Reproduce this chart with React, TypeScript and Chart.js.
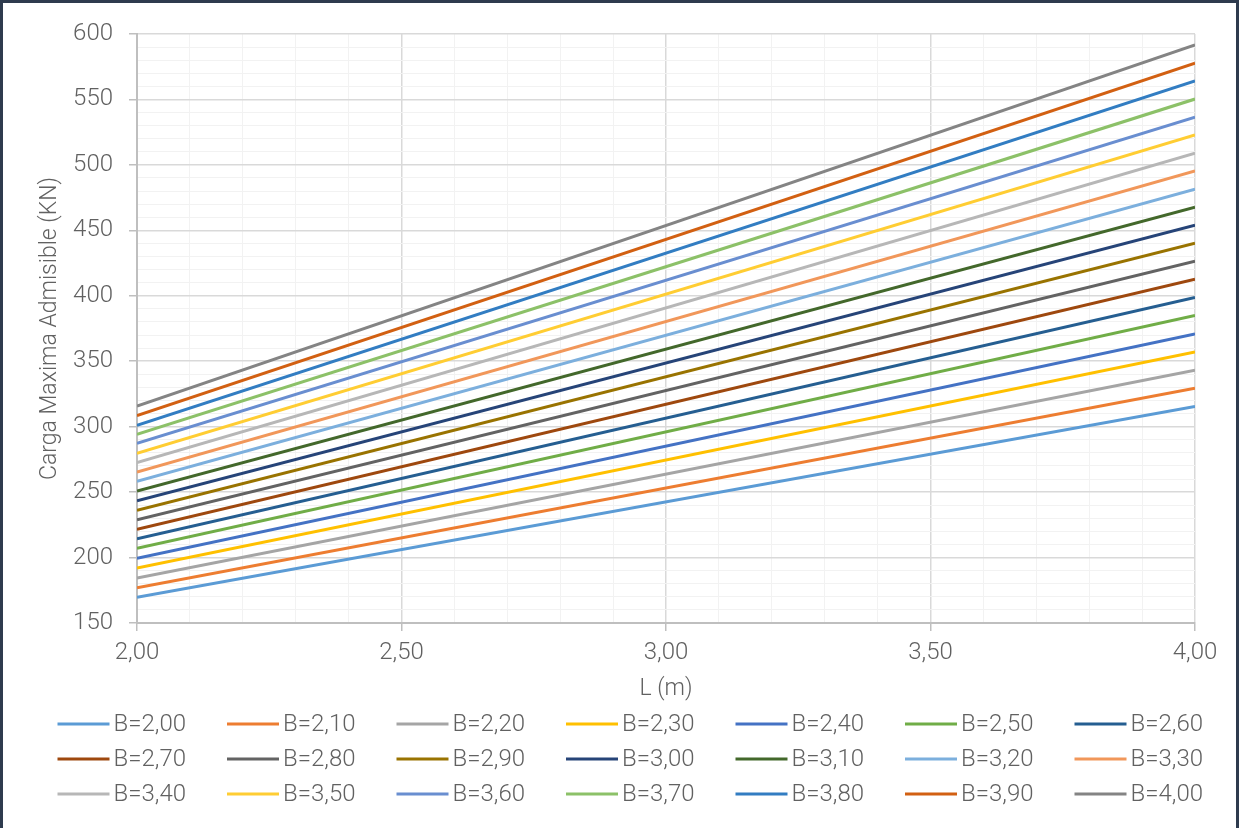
import React, { useEffect, useRef } from "react";
import { Chart, registerables } from "chart.js";

Chart.register(...registerables);

// ---- Data ----
const seriesLabels = [
  "B=2,00", "B=2,10", "B=2,20", "B=2,30", "B=2,40", "B=2,50", "B=2,60",
  "B=2,70", "B=2,80", "B=2,90", "B=3,00", "B=3,10", "B=3,20", "B=3,30",
  "B=3,40", "B=3,50", "B=3,60", "B=3,70", "B=3,80", "B=3,90", "B=4,00",
];
const lengthsM = [2.0, 4.0];
const loadAtLmin = [
  169.6, 176.9, 184.3, 192.0, 199.4, 207.0, 214.4,
  221.6, 228.9, 236.1, 243.4, 250.8, 258.3, 265.4,
  272.5, 279.7, 287.3, 294.2, 301.1, 308.4, 315.8,
];
const loadAtLmax = [
  315.4, 329.4, 343.1, 357.0, 370.9, 385.0, 398.7,
  412.7, 426.5, 440.2, 454.0, 467.7, 481.5, 495.3,
  509.0, 522.8, 536.5, 550.3, 564.1, 577.8, 591.6,
];
const seriesColors = [
  "#5B9BD5", "#ED7D31", "#A5A5A5", "#FFC000", "#4472C4", "#70AD47", "#255E91",
  "#9E480E", "#636363", "#997300", "#264478", "#43682B", "#7CAFDD", "#F1975A",
  "#B7B7B7", "#FFCD33", "#698ED0", "#8CC168", "#327DC2", "#D26012", "#848484",
];
const xMajorTicks = [2.0, 2.5, 3.0, 3.5, 4.0];
const yMajorTicks = [150, 200, 250, 300, 350, 400, 450, 500, 550, 600];
const xTitle = "L (m)";
const yTitle = "Carga Maxima Admisible (KN)";

const FONT = "Roboto";
const TEXT = "#616161";
const MAJOR = "#D9D9D9";
const MINOR = "#F2F2F2";
const AXIS = "#BFBFBF";

const isMajor = (v: number, list: number[]) => list.some((m) => Math.abs(m - v) < 1e-6);

const gridLegend = {
  id: "gridLegend",
  afterDraw(chart: any) {
    const ctx = chart.ctx;
    ctx.save();
    const cols = 7;
    const x0 = 57.5;
    const pitchX = 169.5;
    const y0 = 724;
    const pitchY = 35;
    chart.data.datasets.forEach((ds: any, i: number) => {
      const col = i % cols;
      const row = Math.floor(i / cols);
      const x = x0 + col * pitchX;
      const y = y0 + row * pitchY;
      ctx.strokeStyle = ds.borderColor;
      ctx.lineWidth = 3;
      ctx.lineCap = "butt";
      ctx.beginPath();
      ctx.moveTo(x, y);
      ctx.lineTo(x + 52, y);
      ctx.stroke();
      ctx.fillStyle = TEXT;
      ctx.font = `300 24px ${FONT}`;
      ctx.textBaseline = "middle";
      ctx.textAlign = "left";
      ctx.fillText(ds.label, x + 56, y + 1);
    });
    ctx.restore();
  },
};

export default function App() {
  const canvasRef = useRef<HTMLCanvasElement | null>(null);

  useEffect(() => {
    if (!canvasRef.current) return;
    const datasets = seriesLabels.map((label, i) => ({
      label,
      data: [
        { x: lengthsM[0], y: loadAtLmin[i] },
        { x: lengthsM[1], y: loadAtLmax[i] },
      ],
      borderColor: seriesColors[i],
      backgroundColor: seriesColors[i],
      borderWidth: 3,
      pointRadius: 0,
      tension: 0,
      fill: false,
    }));

    const chart = new Chart(canvasRef.current, {
      type: "line",
      data: { datasets },
      plugins: [gridLegend],
      options: {
        animation: false,
        responsive: true,
        maintainAspectRatio: false,
        layout: { padding: { top: 34, right: 44, bottom: 125, left: 30 } },
        plugins: {
          legend: { display: false },
          tooltip: { enabled: false },
        },
        scales: {
          x: {
            type: "linear",
            min: 2,
            max: 4,
            ticks: {
              stepSize: 0.1,
              autoSkip: false,
              maxRotation: 0,
              color: TEXT,
              padding: 8,
              font: { family: FONT, size: 24, weight: "300" as any },
              callback: (v: any) =>
                isMajor(Number(v), xMajorTicks) ? Number(v).toFixed(2).replace(".", ",") : "",
            },
            grid: {
              color: (c: any) => (isMajor(c.tick?.value, xMajorTicks) ? MAJOR : MINOR),
              lineWidth: (c: any) => (isMajor(c.tick?.value, xMajorTicks) ? 1.5 : 1),
              tickColor: (c: any) => (isMajor(c.tick?.value, xMajorTicks) ? AXIS : "rgba(0,0,0,0)"),
              tickLength: 8,
              drawTicks: true,
            },
            border: { color: AXIS, width: 2 },
            title: {
              display: true,
              text: xTitle,
              color: TEXT,
              font: { family: FONT, size: 23, weight: "300" as any },
              padding: { top: 0, bottom: 0 },
            },
            afterFit: (scale: any) => {
              scale.height = 80;
            },
          },
          y: {
            type: "linear",
            min: 150,
            max: 600,
            ticks: {
              stepSize: 10,
              autoSkip: false,
              color: TEXT,
              padding: 16,
              font: { family: FONT, size: 24, weight: "300" as any },
              callback: (v: any) => (isMajor(Number(v), yMajorTicks) ? String(v) : ""),
            },
            grid: {
              color: (c: any) => (isMajor(c.tick?.value, yMajorTicks) ? MAJOR : MINOR),
              lineWidth: (c: any) => (isMajor(c.tick?.value, yMajorTicks) ? 1.5 : 1),
              tickColor: (c: any) => (isMajor(c.tick?.value, yMajorTicks) ? AXIS : "rgba(0,0,0,0)"),
              tickLength: 8,
              drawTicks: true,
            },
            border: { color: AXIS, width: 2 },
            title: {
              display: true,
              text: yTitle,
              color: TEXT,
              font: { family: FONT, size: 23, weight: "300" as any },
              padding: { top: 6, bottom: 0 },
            },
            afterFit: (scale: any) => {
              scale.width = 107;
            },
          },
        },
      },
    });
    return () => chart.destroy();
  }, []);

  return (
    <div
      style={{
        position: "fixed",
        left: 0,
        top: 0,
        width: 1239,
        height: 828,
        background: "#ffffff",
      }}
    >
      <canvas ref={canvasRef} style={{ width: "100%", height: "100%" }} />
      <div
        style={{
          position: "absolute",
          left: 0,
          top: 0,
          width: 1239,
          height: 840,
          boxSizing: "border-box",
          border: "3px solid #2E3B4E",
          borderBottom: "none",
          pointerEvents: "none",
        }}
      />
    </div>
  );
}
